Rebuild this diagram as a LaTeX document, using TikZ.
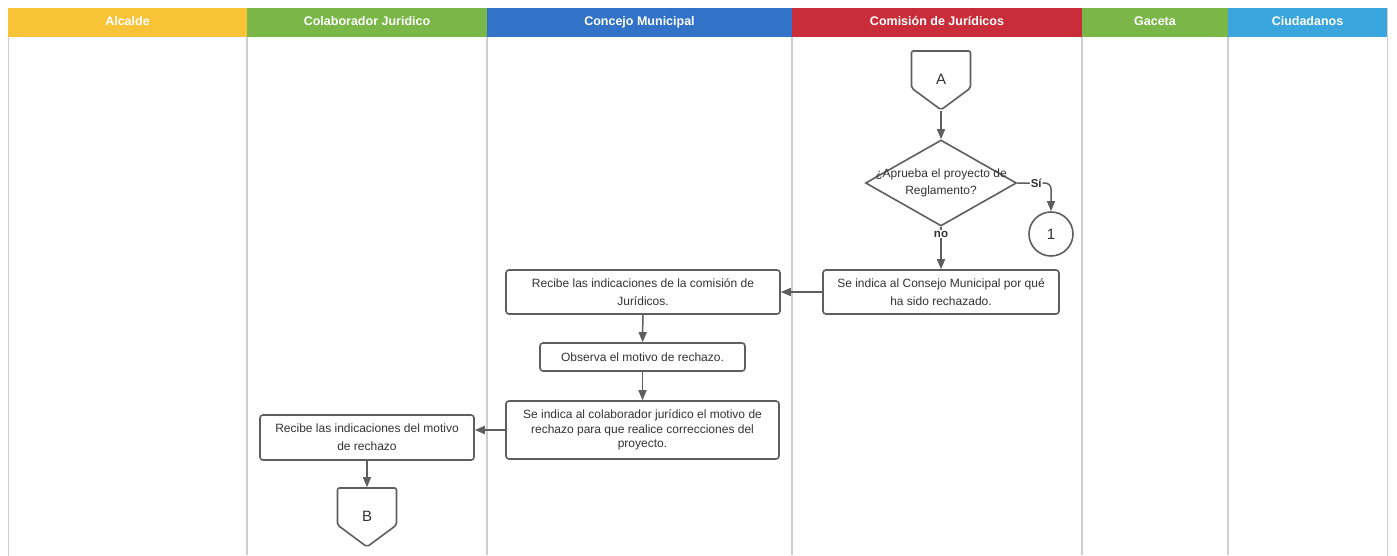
\documentclass[tikz,border=0pt]{standalone}
\usepackage{fontspec}
\setmainfont{Liberation Sans}
\usetikzlibrary{arrows.meta}
\usetikzlibrary{shapes.geometric, shapes.symbols}

\definecolor{lnAlcalde}{HTML}{F9C338}
\definecolor{lnVerde}{HTML}{7AB648}
\definecolor{lnAzul}{HTML}{3273C8}
\definecolor{lnRojo}{HTML}{C92D39}
\definecolor{lnCeleste}{HTML}{3AA6DD}
\definecolor{borde}{HTML}{5E5E5E}
\definecolor{carril}{HTML}{CFCFCF}
\definecolor{texto}{HTML}{333333}

\begin{document}
\begin{tikzpicture}[x=1pt,y=-1pt,
    header/.style={rectangle, minimum height=29pt, inner sep=0pt, text=white,
        text height=9pt, text depth=3pt, font=\fontsize{12.5}{14}\selectfont\bfseries},
    proc/.style={rectangle, draw=borde, line width=1.6pt, rounded corners=3pt,
        inner sep=0pt, align=center, text=texto, font=\fontsize{12}{18}\selectfont},
    offpage/.style={signal, signal to=south, signal pointer angle=107, draw=borde,
        line width=1.6pt, rounded corners=2pt, minimum width=59pt, minimum height=37pt,
        inner sep=0pt},
    flow/.style={draw=borde, line width=1.5pt, -{Triangle[length=10pt,width=8pt]}}]

    \useasboundingbox (0,0) rectangle (1397,555);

    % frame and lanes
    \draw[carril, line width=1pt, rounded corners=4pt] (8,8) -- (8,560) (1387,560) -- (1387,8);
    \begin{scope}[carril, line width=1.8pt]
    \draw (247,37) -- (247,555);
    \draw (487,37) -- (487,555);
    \draw (792,37) -- (792,555);
    \draw (1082,37) -- (1082,555);
    \draw (1228,37) -- (1228,555);
    \end{scope}

    % lane headers
    \node[header, fill=lnAlcalde, minimum width=239pt] (hAlc) at (127.5,22.5) {Alcalde};
    \node[header, fill=lnVerde, minimum width=240pt] (hCol) at (367,22.5) {Colaborador Juridico};
    \node[header, fill=lnAzul, minimum width=305pt] (hCon) at (639.5,22.5) {Concejo Municipal};
    \node[header, fill=lnRojo, minimum width=290pt] (hCom) at (937,22.5) {Comisión de Jurídicos};
    \node[header, fill=lnVerde, minimum width=146pt] (hGac) at (1155,22.5) {Gaceta};
    \node[header, fill=lnCeleste, minimum width=159pt] (hCiu) at (1307.5,22.5) {Ciudadanos};

    % process steps
    \node[offpage, label={[text=texto, font=\fontsize{15}{17}\selectfont, yshift=-10pt]center:A}] (A) at (941,69.5) {};
    \node[diamond, draw=borde, line width=1.6pt, minimum width=151pt, minimum height=86pt,
        inner sep=0pt, label={[align=center, text=texto, font=\fontsize{12}{17}\selectfont]center:¿Aprueba el proyecto de\\Reglamento?}] (Q) at (941,183) {};
    \node[circle, draw=borde, line width=1.6pt, minimum size=44pt, inner sep=0pt,
        text=texto, font=\fontsize{15}{17}\selectfont] (one) at (1051,234) {1};
    \node[proc, minimum width=236pt, minimum height=44pt] (S1) at (941,292)
        {Se indica al Consejo Municipal por qué\\ha sido rechazado.};
    \node[proc, minimum width=274pt, minimum height=44pt] (R1) at (643,292)
        {Recibe las indicaciones de la comisión de\\Jurídicos.};
    \node[proc, minimum width=205pt, minimum height=28pt] (O1) at (642.5,357)
        {Observa el motivo de rechazo.};
    \node[proc, minimum width=273pt, minimum height=58pt, font=\fontsize{12}{14.5}\selectfont] (S2) at (642.5,430)
        {Se indica al colaborador jurídico el motivo de\\rechazo para que realice correcciones del\\proyecto.};
    \node[proc, minimum width=214pt, minimum height=45pt] (R2) at (367,437.5)
        {Recibe las indicaciones del motivo\\de rechazo};
    \node[offpage, label={[text=texto, font=\fontsize{15}{17}\selectfont, yshift=-10pt]center:B}] (B) at (367,506.5) {};

    % connectors
    \path[flow] (A) -- (Q);
    \path[flow, rounded corners=6pt] (Q.east) -| node[pos=0.28, fill=white, inner sep=1pt,
        text=texto, font=\fontsize{11.5}{13}\selectfont\bfseries] {Sí} (one.north);
    \path[flow] (Q.south) -- node[pos=0.17, fill=white, inner sep=1pt,
        text=texto, font=\fontsize{11.5}{13}\selectfont\bfseries] {no} (S1.north);
    \path[flow] (S1) -- (R1);
    \path[flow] (R1) -- (O1);
    \path[flow] (O1) -- (S2);
    \path[flow] (S2.west) -- (S2.west -| R2.east);
    \path[flow] (R2) -- (B);

\end{tikzpicture}
\end{document}
